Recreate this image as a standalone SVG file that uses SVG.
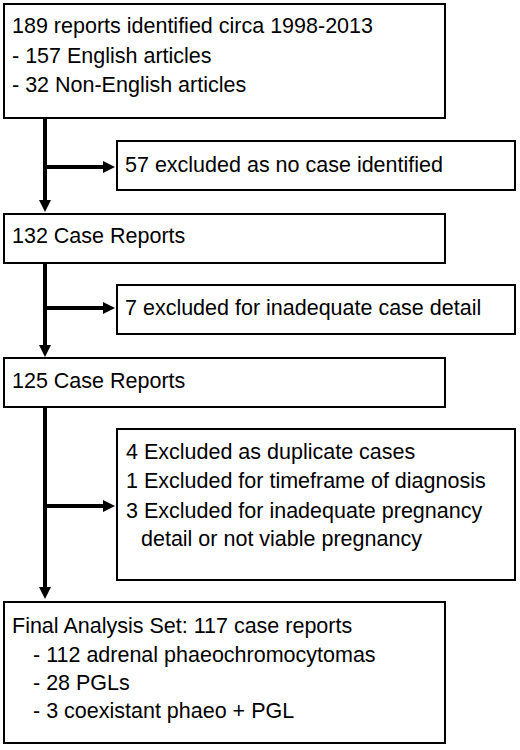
<svg xmlns="http://www.w3.org/2000/svg" width="520" height="750" viewBox="0 0 520 750">
<style>
.box{fill:#fff;stroke:#000;stroke-width:2}
.t{font-family:"Liberation Sans",Arial,sans-serif;font-size:21.5px;fill:#000}
.c{fill:none;stroke:#000;stroke-width:4}
</style>
<defs>
<marker id="ah" markerUnits="userSpaceOnUse" markerWidth="12" markerHeight="12" refX="4" refY="6" orient="auto">
<path d="M0,0 L12,6 L0,12 z" fill="#000"/>
</marker>
</defs>
<rect width="520" height="750" fill="#fff"/>
<g id="connectors">
<path class="c" d="M45,119 V204" marker-end="url(#ah)"/>
<path class="c" d="M45,167 H107" marker-end="url(#ah)"/>
<path class="c" d="M45,264 V349" marker-end="url(#ah)"/>
<path class="c" d="M45,308 H107" marker-end="url(#ah)"/>
<path class="c" d="M45,408 V591" marker-end="url(#ah)"/>
<path class="c" d="M45,506 H107" marker-end="url(#ah)"/>
</g>
<g id="n1">
<rect class="box" x="4" y="4" width="441" height="114"/>
<text class="t" x="12" y="33">189 reports identified circa 1998-2013</text>
<text class="t" x="12" y="63">- 157 English articles</text>
<text class="t" x="12" y="92">- 32 Non-English articles</text>
</g>
<g id="e1">
<rect class="box" x="117" y="141" width="398" height="49"/>
<text class="t" x="125" y="172">57 excluded as no case identified</text>
</g>
<g id="n2">
<rect class="box" x="4" y="214" width="441" height="49"/>
<text class="t" x="12" y="243">132 Case Reports</text>
</g>
<g id="e2">
<rect class="box" x="117" y="285" width="398" height="49"/>
<text class="t" x="125" y="315">7 excluded for inadequate case detail</text>
</g>
<g id="n3">
<rect class="box" x="4" y="358" width="441" height="49"/>
<text class="t" x="12" y="388">125 Case Reports</text>
</g>
<g id="e3">
<rect class="box" x="117" y="429" width="398" height="151"/>
<text class="t" x="126" y="459">4 Excluded as duplicate cases</text>
<text class="t" x="126" y="488">1 Excluded for timeframe of diagnosis</text>
<text class="t" x="126" y="518">3 Excluded for inadequate pregnancy</text>
<text class="t" x="141" y="546">detail or not viable pregnancy</text>
</g>
<g id="n4">
<rect class="box" x="4" y="602" width="441" height="141"/>
<text class="t" x="12" y="633">Final Analysis Set: 117 case reports</text>
<text class="t" x="33" y="662">- 112 adrenal phaeochromocytomas</text>
<text class="t" x="33" y="690">- 28 PGLs</text>
<text class="t" x="33" y="718">- 3 coexistant phaeo + PGL</text>
</g>
</svg>
